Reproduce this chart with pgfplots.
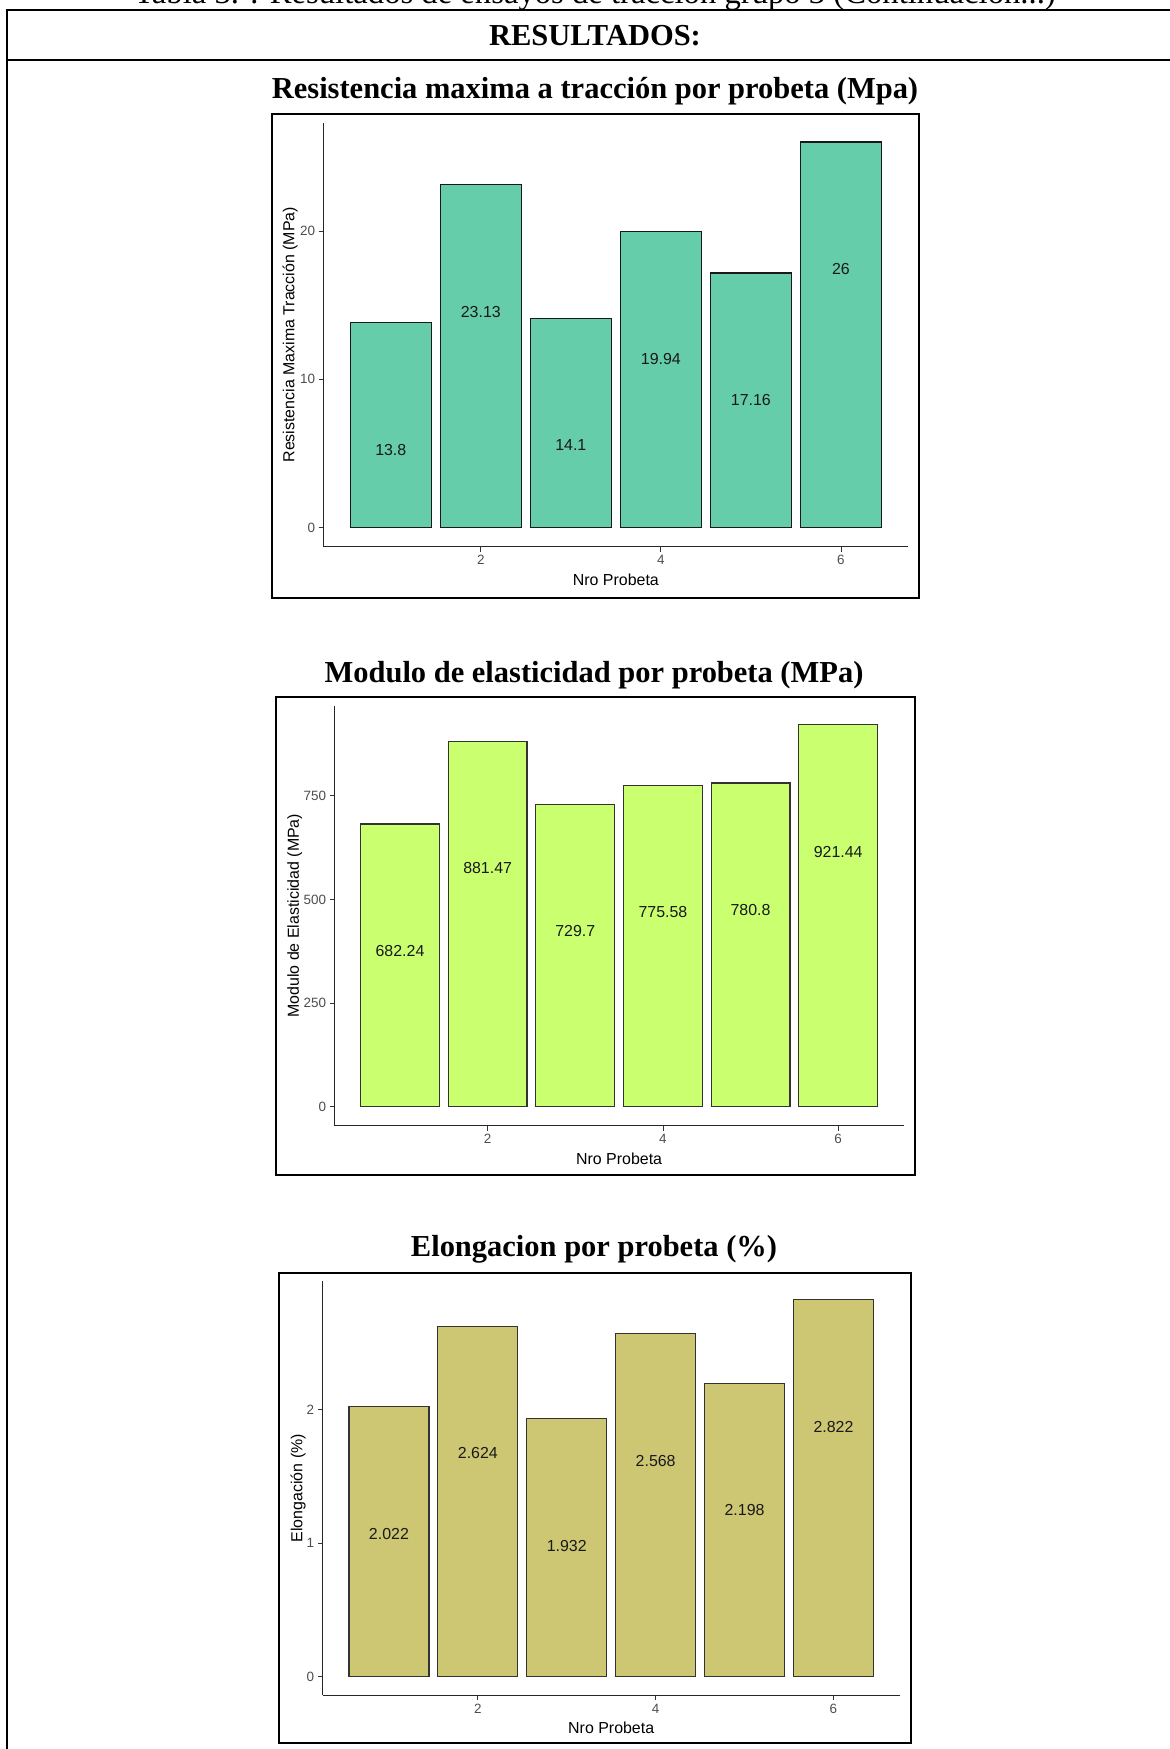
\documentclass[border=0pt]{standalone}
\usepackage{fontspec}
\setmainfont{Liberation Serif}
\setsansfont{Liberation Sans}
\usepackage{pgfplots}
\pgfplotsset{compat=1.18}
\definecolor{cA}{HTML}{66CDAA}
\definecolor{cB}{HTML}{CAFF70}
\definecolor{cC}{HTML}{CDC673}
\definecolor{tickgray}{HTML}{4D4D4D}
\definecolor{tickmark}{HTML}{333333}
\newcommand{\ttl}{\fontsize{30.6}{36}\selectfont\rmfamily\bfseries}
\newcommand{\lab}{\fontsize{16}{19}\selectfont\sffamily}
\pgfplotsset{
  panel/.style={
    scale only axis,
    axis x line*=bottom, axis y line*=left,
    axis line style={-, line width=0.9bp, color=black!85},
    xmin=0.255, xmax=6.745, xtick={2,4,6},
    tick align=outside, major tick length=5bp,
    tick style={color=tickmark, line width=0.8bp},
    ticklabel style={font=\fontsize{13.5}{16}\selectfont\sffamily, text=tickgray},
    /pgf/number format/assume math mode=true,
    xlabel={Nro Probeta},
    every axis x label/.style={at={(axis description cs:0.5,0)}, anchor=base, yshift=-38.3bp, font=\lab, text=black},
    ybar, bar width=0.9, bar shift=0pt,
    clip=false,
    nodes near coords, point meta=explicit symbolic,
    every node near coord/.append style={anchor=center, yshift=-127bp, font=\lab, text=black!90},
  }
}
\begin{document}
\begin{tikzpicture}
\path[use as bounding box] (0bp,0bp) rectangle (1170bp,-1749bp);
% table frame
\draw[line width=2bp] (7bp,-1760bp) -- (7bp,-10bp) -- (1180bp,-10bp);
\draw[line width=2bp] (7bp,-60bp) -- (1180bp,-60bp);
\node[anchor=base, font=\fontsize{32.8}{36}\selectfont\rmfamily] at (595bp,-3.5bp) {Tabla 3. : Resultados de ensayos de tracción grupo 3 (Continuación...)};
\node[anchor=base, font=\ttl] at (595bp,-45.5bp) {RESULTADOS:};
% titles
\node[anchor=base, font=\ttl] at (595bp,-98bp) {Resistencia maxima a tracción por probeta (Mpa)};
\node[anchor=base, font=\ttl] at (594bp,-682bp) {Modulo de elasticidad por probeta (MPa)};
\node[anchor=base, font=\ttl] at (594bp,-1256bp) {Elongacion por probeta (\%)};
% panel boxes
\draw[line width=2bp] (272bp,-114bp) rectangle (919bp,-598bp);
\draw[line width=2bp] (276bp,-697bp) rectangle (915bp,-1175bp);
\draw[line width=2bp] (279bp,-1273bp) rectangle (911bp,-1743bp);

\begin{axis}[panel,
  at={(323.7bp,-546.7bp)}, anchor=south west,
  width=584.3bp, height=424bp,
  ymin=-1.3, ymax=27.3, ytick={0,10,20},
  ylabel={Resistencia Maxima Tracción (MPa)},
  every axis y label/.style={at={(axis description cs:-0.0503,0.5)}, rotate=90, anchor=base, font=\lab, text=black},
]
\addplot[fill=cA, draw=black!90, line width=1.2bp] coordinates {
 (1,13.8) [13.8] (2,23.13) [23.13] (3,14.1) [14.1] (4,19.94) [19.94] (5,17.16) [17.16] (6,26) [26]};
\end{axis}

\begin{axis}[panel,
  at={(334.7bp,-1125.7bp)}, anchor=south west,
  width=568.8bp, height=420bp,
  ymin=-46.07, ymax=967.5, ytick={0,250,500,750},
  ylabel={Modulo de Elasticidad (MPa)},
  every axis y label/.style={at={(axis description cs:-0.0628,0.5)}, rotate=90, anchor=base, font=\lab, text=black},
]
\addplot[fill=cB, draw=black!80, line width=1.2bp] coordinates {
 (1,682.24) [682.24] (2,881.47) [881.47] (3,729.7) [729.7] (4,775.58) [775.58] (5,780.8) [780.8] (6,921.44) [921.44]};
\end{axis}

\begin{axis}[panel,
  at={(322.7bp,-1695.3bp)}, anchor=south west,
  width=577bp, height=414.3bp,
  ymin=-0.1411, ymax=2.9631, ytick={0,1,2},
  ylabel={Elongación (\%)},
  every axis y label/.style={at={(axis description cs:-0.0354,0.5)}, rotate=90, anchor=base, font=\lab, text=black},
]
\addplot[fill=cC, draw=black!80, line width=1.2bp] coordinates {
 (1,2.022) [2.022] (2,2.624) [2.624] (3,1.932) [1.932] (4,2.568) [2.568] (5,2.198) [2.198] (6,2.822) [2.822]};
\end{axis}
\end{tikzpicture}
\end{document}
